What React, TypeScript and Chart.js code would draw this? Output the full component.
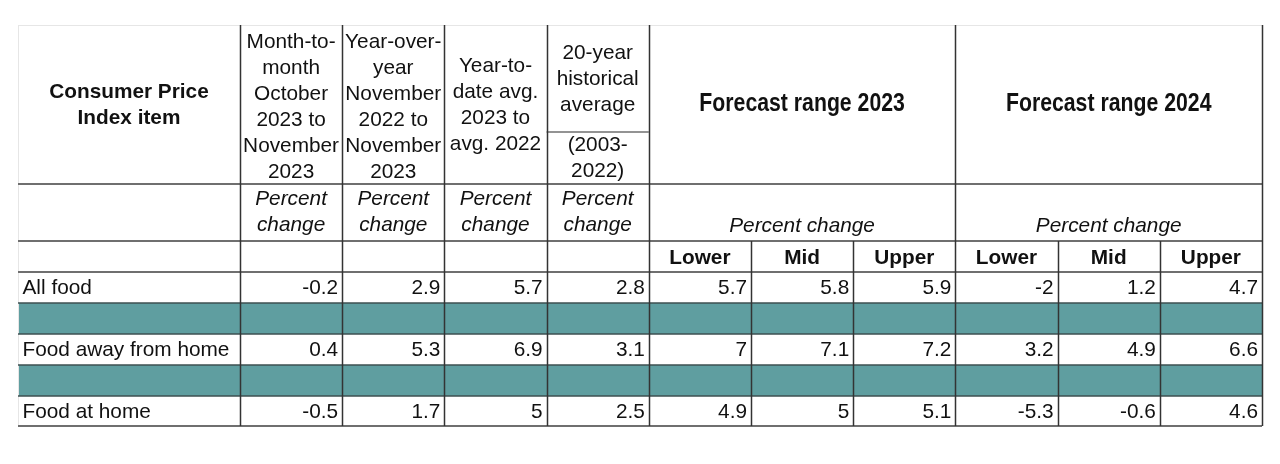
import React, { useEffect, useRef } from "react";
import { Chart, registerables } from "chart.js";

Chart.register(...registerables);

// ---------- data ----------
const itemHeader = ["Consumer Price", "Index item"];
const columnHeaders = [
  ["Month-to-", "month", "October", "2023 to", "November", "2023"],
  ["Year-over-", "year", "November", "2022 to", "November", "2023"],
  ["Year-to-", "date avg.", "2023 to", "avg. 2022"],
  ["20-year", "historical", "average"],
];
const historicalPeriod = ["(2003-", "2022)"];
const forecastHeaders = ["Forecast range 2023", "Forecast range 2024"];
const unitLabel = ["Percent", "change"];
const boundLabels = ["Lower", "Mid", "Upper"];
const categories = ["All food", "Food away from home", "Food at home"];

const monthToMonth = [-0.2, 0.4, -0.5];
const yearOverYear = [2.9, 5.3, 1.7];
const yearToDate = [5.7, 6.9, 5];
const historical20 = [2.8, 3.1, 2.5];
const forecast2023Lower = [5.7, 7, 4.9];
const forecast2023Mid = [5.8, 7.1, 5];
const forecast2023Upper = [5.9, 7.2, 5.1];
const forecast2024Lower = [-2, 3.2, -5.3];
const forecast2024Mid = [1.2, 4.9, -0.6];
const forecast2024Upper = [4.7, 6.6, 4.6];

const valueColumns = [
  monthToMonth,
  yearOverYear,
  yearToDate,
  historical20,
  forecast2023Lower,
  forecast2023Mid,
  forecast2023Upper,
  forecast2024Lower,
  forecast2024Mid,
  forecast2024Upper,
];

// ---------- layout (table units) ----------
const X_FIRST = -2.172; // label column start; value columns are 1 unit wide
const X_MAX = 10;
const ROW_EDGES = [0, 159, 216, 247, 278, 309, 340, 371, 401];
const HIST_SPLIT = 107;
const DATA_ROWS = [3, 5, 7];
const BAND_ROWS = [4, 6];
const FORECAST_SPANS = [
  [4, 7],
  [7, 10],
];

// ---------- styles ----------
const FONT_FAMILY = '"Liberation Sans", Arial, sans-serif';
const FONT_SIZE = 20.8;
const LINE_H = 26;
const TEXT_COLOR = "#111";
const BAND_COLOR = "#5f9ea0";
const H_LINE = "#6f6f6f";
const V_LINE = "#333";
const FAINT = "#e6e6e6";

const tablePlugin = {
  id: "tableDraw",
  afterDraw(chart: any) {
    const ctx = chart.ctx as CanvasRenderingContext2D;
    const xs = chart.scales.x;
    const ys = chart.scales.y;
    const px = (v: number) => xs.getPixelForValue(v);
    const py = (v: number) => ys.getPixelForValue(v);
    const left = px(X_FIRST);
    const right = px(X_MAX);
    const top = py(ROW_EDGES[0]);
    const bottom = py(ROW_EDGES[ROW_EDGES.length - 1]);

    ctx.save();
    // bands
    ctx.fillStyle = BAND_COLOR;
    BAND_ROWS.forEach((r) => {
      const y0 = py(ROW_EDGES[r]);
      const y1 = py(ROW_EDGES[r + 1]);
      ctx.fillRect(left, y0, right - left, y1 - y0);
    });

    ctx.fillStyle = TEXT_COLOR;
    const regular = `${FONT_SIZE}px ${FONT_FAMILY}`;
    const bold = `bold ${FONT_SIZE}px ${FONT_FAMILY}`;
    const italic = `italic ${FONT_SIZE}px ${FONT_FAMILY}`;

    const lines = (txt: string[], cx: number, cy: number) => {
      const start = cy - ((txt.length - 1) * LINE_H) / 2;
      txt.forEach((t, i) => ctx.fillText(t, cx, start + i * LINE_H));
    };
    const rowMid = (r: number) => (py(ROW_EDGES[r]) + py(ROW_EDGES[r + 1])) / 2;

    ctx.textBaseline = "middle";
    ctx.textAlign = "center";

    // item header
    ctx.font = bold;
    lines(itemHeader, (left + px(0)) / 2, rowMid(0) + 1);

    // column headers
    ctx.font = regular;
    columnHeaders.forEach((h, k) => {
      const cx = px(k + 0.5);
      if (k === 3) {
        lines(h, cx, (py(ROW_EDGES[0]) + py(HIST_SPLIT)) / 2 + 1);
        lines(historicalPeriod, cx, (py(HIST_SPLIT) + py(ROW_EDGES[1])) / 2);
      } else {
        lines(h, cx, rowMid(0) + (h.length > 4 ? 3 : 1));
      }
    });

    // forecast headers (narrow bold)
    forecastHeaders.forEach((h, i) => {
      const [a, b] = FORECAST_SPANS[i];
      ctx.save();
      ctx.translate((px(a) + px(b)) / 2, rowMid(0));
      ctx.scale(0.85, 1);
      ctx.font = `bold 25px ${FONT_FAMILY}`;
      ctx.fillText(h, 0, 0);
      ctx.restore();
    });

    // unit row
    ctx.font = italic;
    for (let k = 0; k < 4; k++) lines(unitLabel, px(k + 0.5), rowMid(1));
    FORECAST_SPANS.forEach(([a, b]) => {
      ctx.fillText(unitLabel.join(" "), (px(a) + px(b)) / 2, rowMid(1) + LINE_H / 2 + 1);
    });

    // bounds row
    ctx.font = bold;
    FORECAST_SPANS.forEach(([a]) => {
      boundLabels.forEach((l, j) => ctx.fillText(l, px(a + j + 0.5), rowMid(2) + 1.5));
    });

    // data rows
    ctx.font = regular;
    DATA_ROWS.forEach((r, i) => {
      const cy = rowMid(r) + 1;
      ctx.textAlign = "left";
      ctx.fillText(categories[i], left + 4.5, cy);
      ctx.textAlign = "right";
      valueColumns.forEach((col, k) => {
        ctx.fillText(String(col[i]), px(k + 1) - 4, cy);
      });
    });

    // lines
    const hLine = (y: number, x0: number, x1: number, color: string, w: number) => {
      ctx.strokeStyle = color;
      ctx.lineWidth = w;
      ctx.beginPath();
      ctx.moveTo(x0, y);
      ctx.lineTo(x1, y);
      ctx.stroke();
    };
    const vLine = (x: number, y0: number, y1: number, color: string, w: number) => {
      ctx.strokeStyle = color;
      ctx.lineWidth = w;
      ctx.beginPath();
      ctx.moveTo(x, y0);
      ctx.lineTo(x, y1);
      ctx.stroke();
    };

    // faint outer top/left
    hLine(top + 0.5, left, right, FAINT, 1);
    vLine(left + 0.5, top, bottom, FAINT, 1);

    for (let r = 1; r < ROW_EDGES.length; r++) {
      const y = Math.round(py(ROW_EDGES[r]));
      const bandEdge = BAND_ROWS.includes(r) || BAND_ROWS.includes(r - 1);
      hLine(y, left, right, bandEdge ? "#3c4f50" : H_LINE, bandEdge ? 1.5 : 2);
    }
    hLine(Math.round(py(HIST_SPLIT)), px(3), px(4), H_LINE, 1.5);

    const fullV = [0, 1, 2, 3, 4, 7, 10];
    const partV = [5, 6, 8, 9];
    fullV.forEach((k) => vLine(Math.round(px(k)) + 0.5, top, bottom, V_LINE, 1.5));
    partV.forEach((k) => vLine(Math.round(px(k)) + 0.5, py(ROW_EDGES[2]), bottom, V_LINE, 1.5));

    ctx.restore();
  },
};

export default function App() {
  const ref = useRef<HTMLCanvasElement | null>(null);
  useEffect(() => {
    if (!ref.current) return;
    const chart = new Chart(ref.current, {
      type: "scatter",
      data: { datasets: [] },
      options: {
        animation: false,
        responsive: false,
        layout: { padding: { left: 18, top: 25, right: 18, bottom: 38 } },
        scales: {
          x: { type: "linear", min: X_FIRST, max: X_MAX, display: false },
          y: { type: "linear", min: 0, max: ROW_EDGES[ROW_EDGES.length - 1], reverse: true, display: false },
        },
        plugins: { legend: { display: false }, tooltip: { enabled: false } },
      },
      plugins: [tablePlugin],
    });
    return () => chart.destroy();
  }, []);
  return (
    <div style={{ position: "absolute", left: 0, top: 0, width: 1280, height: 464, background: "#fff" }}>
      <canvas ref={ref} width={1280} height={464} />
    </div>
  );
}
